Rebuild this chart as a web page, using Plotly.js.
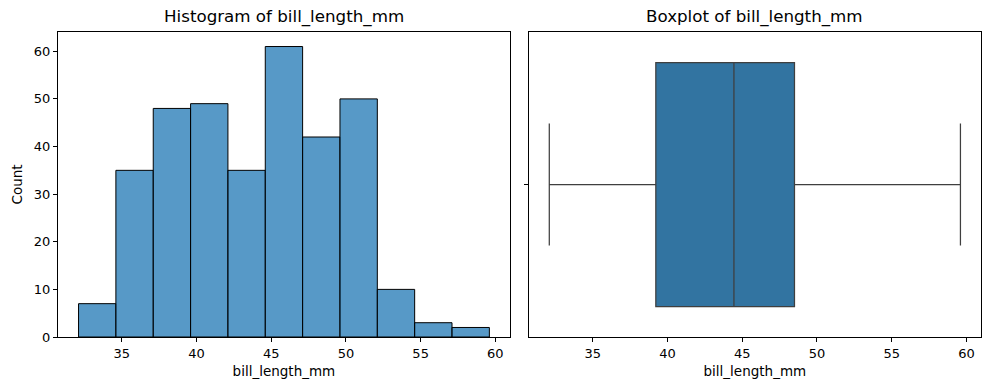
<!DOCTYPE html>
<html>
<head>
<meta charset="utf-8">
<script src="https://cdn.plot.ly/plotly-3.0.1.min.js"></script>
<style>html,body{margin:0;padding:0;background:#fff;}#chart{width:989px;height:390px;}</style>
</head>
<body>
<div id="chart"></div>
<script>
// Histogram data
const binEdges = [32.1, 34.6, 37.1, 39.6, 42.1, 44.6, 47.1, 49.6, 52.1, 54.6, 57.1, 59.6];
const counts = [7, 35, 48, 49, 35, 61, 42, 50, 10, 3, 2];
// Boxplot stats
const boxLabel = "bill_length_mm";
const boxQ1 = [39.225];
const boxMedian = [44.45];
const boxQ3 = [48.5];
const boxLowerFence = [32.1];
const boxUpperFence = [59.6];
const yTicks = [0, 10, 20, 30, 40, 50, 60];
const xTicks = [35, 40, 45, 50, 55, 60];

const centers = counts.map((c, i) => (binEdges[i] + binEdges[i + 1]) / 2);
const widths = counts.map((c, i) => binEdges[i + 1] - binEdges[i]);

const font = "DejaVu Sans, sans-serif";
const xr = [30.725, 60.975];

const traces = [
  {
    type: "bar", x: centers, y: counts, width: widths,
    marker: {color: "rgba(31,119,180,0.75)", line: {color: "#000", width: 1}},
    xaxis: "x", yaxis: "y", hoverinfo: "x+y", showlegend: false
  },
  {
    type: "box", orientation: "h", y: [0],
    q1: boxQ1, median: boxMedian, q3: boxQ3,
    lowerfence: boxLowerFence, upperfence: boxUpperFence,
    width: 0.8, whiskerwidth: 0.5, boxpoints: false,
    fillcolor: "#3274a1", line: {color: "#3f3f3f", width: 1.25},
    xaxis: "x2", yaxis: "y2", showlegend: false, name: boxLabel
  }
];

const axBase = {
  showline: true, mirror: true, linecolor: "#000", linewidth: 1,
  showgrid: false, zeroline: false, ticks: "outside", ticklen: 4, tickwidth: 1, tickcolor: "#000",
  tickfont: {family: font, size: 13, color: "#000"}
};

const layout = {
  width: 989, height: 390,
  margin: {l: 57.5, r: 8.3, t: 32.3, b: 52.7},
  paper_bgcolor: "#fff", plot_bgcolor: "#fff",
  font: {family: font, color: "#000"},
  bargap: 0,
  xaxis: Object.assign({}, axBase, {domain: [0, 0.4896], range: xr, tickvals: xTicks, anchor: "y",
    title: {text: "bill_length_mm", font: {family: font, size: 13.5}, standoff: 6}}),
  yaxis: Object.assign({}, axBase, {range: [0, 64.05], tickvals: yTicks, anchor: "x",
    title: {text: "Count", font: {family: font, size: 13.5}, standoff: 8}}),
  xaxis2: Object.assign({}, axBase, {domain: [0.51, 1], range: xr, tickvals: xTicks, anchor: "y2",
    title: {text: "bill_length_mm", font: {family: font, size: 13.5}, standoff: 6}}),
  yaxis2: Object.assign({}, axBase, {range: [0.5, -0.5], tickvals: [0], ticktext: [""], anchor: "x2"}),
  annotations: [
    {text: "Histogram of bill_length_mm", xref: "paper", yref: "paper", x: 0.2448, xanchor: "center", y: 1, yanchor: "bottom", yshift: 3,
     showarrow: false, font: {family: font, size: 16.7, color: "#000"}},
    {text: "Boxplot of bill_length_mm", xref: "paper", yref: "paper", x: 0.755, xanchor: "center", y: 1, yanchor: "bottom", yshift: 3,
     showarrow: false, font: {family: font, size: 16.7, color: "#000"}}
  ]
};

Plotly.newPlot("chart", traces, layout, {displayModeBar: false, staticPlot: true});
</script>
</body>
</html>
